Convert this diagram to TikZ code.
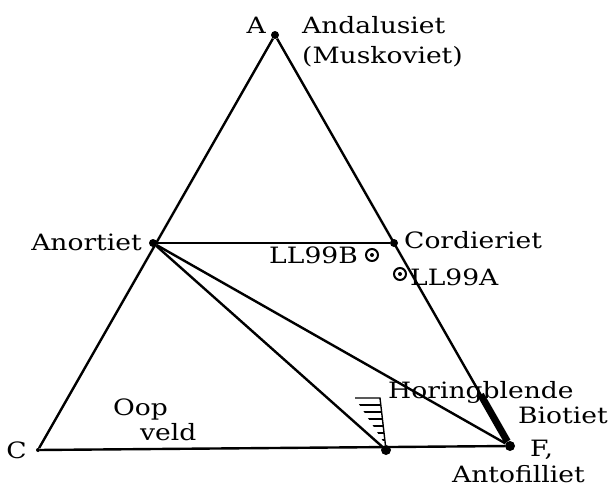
\documentclass[tikz,border=0pt]{standalone}
\usepackage{fontspec}
\setmainfont[FakeStretch=1.18]{DejaVu Serif}
\usetikzlibrary{calc}
\begin{document}
\begin{tikzpicture}[x=1pt,y=-1pt,
  dot/.style={circle,fill=black,inner sep=0pt,minimum size=8pt},
  edge/.style={line width=2.4pt},
  lbl/.style={inner sep=0pt,font=\fontsize{22.5}{26}\selectfont},
  sample/.style={circle,draw=black,line width=2pt,inner sep=0pt,minimum size=12pt}]
\useasboundingbox (0,0) rectangle (614,490);
% vertices
\node[dot] (A) at (275,35) {};
\node[dot,minimum size=4pt] (C) at (38,450) {};
\node[dot,minimum size=10pt] (F) at (510,446) {};
\node[dot] (An) at (153,243) {};
\node[dot] (Co) at (394,243) {};
\node[dot,minimum size=10pt] (P) at (386,450) {};
% edges
\draw[edge] (A) -- (C);
\draw[edge] (A) -- (F);
\draw[edge] (C) -- (F);
\draw[edge] (An) -- (Co);
\draw[edge] (An) -- (F);
\draw[edge] (An) -- (P);
% thick segment
\draw[line width=7pt] ($(A)!0.875!(F)$) -- (F);
% hatched area
\coordinate (H1) at (355,398);
\coordinate (H2) at (380,398);
\draw[line width=1.4pt] (H1) -- (H2) -- (P) -- cycle;
\begin{scope}
\clip (H1) -- (H2) -- (P) -- cycle;
\foreach \yy in {405,412,419,426,433,440} \draw[line width=1.3pt] (340,\yy) -- (400,\yy);
\end{scope}
% samples
\node[sample] (B) at (372,255) {};
\fill (B) circle (2pt);
\node[sample] (Aa) at (400,274) {};
\fill (Aa) circle (2pt);
% labels
\node[lbl,anchor=base east] (tA) at (266,33) {A};
\node[lbl,anchor=base west] (tAnd) at (302,33) {Andalusiet};
\node[lbl,anchor=base west] (tMus) at (302,63) {(Muskoviet)};
\node[lbl,anchor=base east] (tAn) at (142,250) {Anortiet};
\node[lbl,anchor=base west] (tCo) at (404,248) {Cordieriet};
\node[lbl,anchor=base east] (tB) at (358,263) {LL99B};
\node[lbl,anchor=base west] (tLA) at (410,285) {LL99A};
\node[lbl,anchor=base west] (tHo) at (388,398) {Horingblende};
\node[lbl,anchor=base west] (tBi) at (518,423) {Biotiet};
\node[lbl,anchor=base west] (tF) at (530,456) {F,};
\node[lbl,anchor=base west] (tAf) at (452,482) {Antofilliet};
\node[lbl,anchor=base west] (tO) at (113,415) {Oop};
\node[lbl,anchor=base west] (tV) at (140,440) {veld};
\node[lbl,anchor=base east] (tC) at (27,458) {C};
\end{tikzpicture}
\end{document}
